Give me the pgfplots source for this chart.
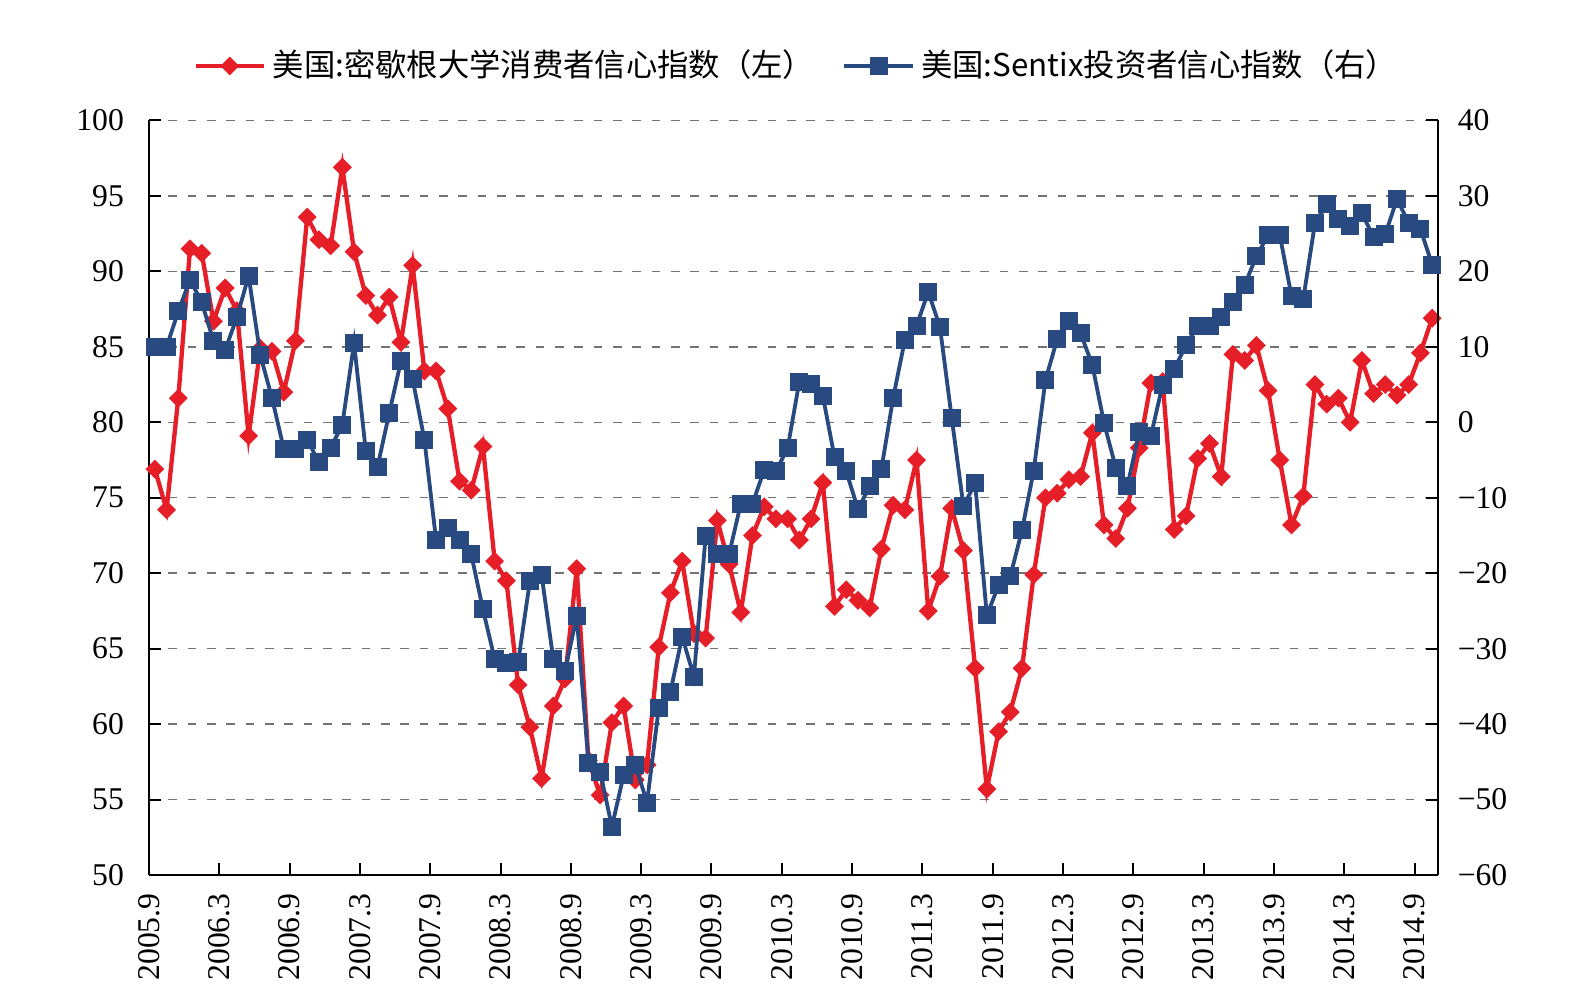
\documentclass[border=0pt]{standalone}
\usepackage{fontspec}
\setmainfont{Liberation Serif}
\newfontfamily\cjk{Noto Sans CJK SC}
\usepackage{pgfplots}
\pgfplotsset{compat=1.18}
\usepackage{pgfplotstable}

\definecolor{myred}{RGB}{230,30,40}
\definecolor{myblue}{RGB}{40,74,128}

\pgfplotstableread{
i v
0 76.9
1 74.2
2 81.6
3 91.5
4 91.2
5 86.7
6 88.9
7 87.4
8 79.1
9 84.9
10 84.7
11 82.0
12 85.4
13 93.6
14 92.1
15 91.7
16 96.9
17 91.3
18 88.4
19 87.1
20 88.3
21 85.3
22 90.4
23 83.4
24 83.4
25 80.9
26 76.1
27 75.5
28 78.4
29 70.8
30 69.5
31 62.6
32 59.8
33 56.4
34 61.2
35 63.0
36 70.3
37 57.6
38 55.3
39 60.1
40 61.2
41 56.3
42 57.3
43 65.1
44 68.7
45 70.8
46 66.0
47 65.7
48 73.5
49 70.6
50 67.4
51 72.5
52 74.4
53 73.6
54 73.6
55 72.2
56 73.6
57 76.0
58 67.8
59 68.9
60 68.2
61 67.7
62 71.6
63 74.5
64 74.2
65 77.5
66 67.5
67 69.8
68 74.3
69 71.5
70 63.7
71 55.7
72 59.5
73 60.8
74 63.7
75 69.9
76 75.0
77 75.3
78 76.2
79 76.4
80 79.3
81 73.2
82 72.3
83 74.3
84 78.3
85 82.6
86 82.7
87 72.9
88 73.8
89 77.6
90 78.6
91 76.4
92 84.5
93 84.1
94 85.1
95 82.1
96 77.5
97 73.2
98 75.1
99 82.5
100 81.2
101 81.6
102 80.0
103 84.1
104 81.9
105 82.5
106 81.8
107 82.5
108 84.6
109 86.9
}\michtable

\pgfplotstableread{
i v
0 10.0
1 10.0
2 14.7
3 18.9
4 15.9
5 10.8
6 9.6
7 13.9
8 19.4
9 8.9
10 3.2
11 -3.5
12 -3.5
13 -2.3
14 -5.3
15 -3.4
16 -0.3
17 10.5
18 -3.8
19 -5.9
20 1.2
21 8.1
22 5.7
23 -2.3
24 -15.6
25 -14.0
26 -15.6
27 -17.5
28 -24.8
29 -31.4
30 -31.9
31 -31.8
32 -21.1
33 -20.2
34 -31.4
35 -33.0
36 -25.7
37 -45.1
38 -46.3
39 -53.6
40 -46.8
41 -45.4
42 -50.4
43 -37.9
44 -35.7
45 -28.4
46 -33.7
47 -15.1
48 -17.5
49 -17.5
50 -10.8
51 -10.8
52 -6.3
53 -6.5
54 -3.4
55 5.4
56 5.1
57 3.5
58 -4.6
59 -6.5
60 -11.5
61 -8.5
62 -6.2
63 3.2
64 10.9
65 12.8
66 17.3
67 12.6
68 0.6
69 -11.1
70 -8.1
71 -25.6
72 -21.6
73 -20.4
74 -14.3
75 -6.4
76 5.6
77 11.0
78 13.4
79 11.8
80 7.6
81 -0.1
82 -6.0
83 -8.4
84 -1.3
85 -1.8
86 5.0
87 7.1
88 10.2
89 12.8
90 12.7
91 14.0
92 15.9
93 18.2
94 22.0
95 24.8
96 24.8
97 16.7
98 16.3
99 26.4
100 28.9
101 26.9
102 26.0
103 27.7
104 24.6
105 24.9
106 29.6
107 26.4
108 25.6
109 20.9
}\sentixtable

\pgfplotsset{
  common/.style={
    at={(0pt,0pt)}, anchor=south west,
    scale only axis, width=386.7pt, height=226.35pt,
    xmin=-0.5, xmax=109.5,
    clip=false,
    tick align=inside,
    major tick length=3.5pt,
    every tick/.style={black, line width=0.6pt},
    axis line style={-, black, line width=0.6pt},
    tick label style={font=\fontsize{9.5}{11}\selectfont},
    /pgf/number format/assume math mode=true,
  },
  redline/.style={color=myred, line width=1.3pt, mark=square*, mark size=1.8pt,
    mark options={solid, rotate=45, fill=myred, draw=myred, line width=0.4pt}},
  blueline/.style={color=myblue, line width=1.15pt, mark=square*, mark size=2.5pt,
    mark options={solid, fill=myblue, draw=myblue, line width=0.4pt}},
}

\begin{document}
\begin{tikzpicture}
\path[use as bounding box] (-44.7pt,-39.6pt) rectangle (431.1pt,262.5pt);
\begin{axis}[common,
  ymin=50, ymax=100,
  ytick={50,55,60,65,70,75,80,85,90,95,100},
  axis x line*=bottom, axis y line*=left,
  xtick={-0.5,5.5,11.5,17.5,23.5,29.5,35.5,41.5,47.5,53.5,59.5,65.5,71.5,77.5,83.5,89.5,95.5,101.5,107.5},
  xticklabels={2005.9,2006.3,2006.9,2007.3,2007.9,2008.3,2008.9,2009.3,2009.9,2010.3,2010.9,2011.3,2011.9,2012.3,2012.9,2013.3,2013.9,2014.3,2014.9},
  x tick label style={rotate=90, anchor=east},
  xticklabel shift=2pt,
  yticklabel shift=4pt,
  ymajorgrids,
  grid style={dash pattern=on 2.6pt off 3.2pt, black!55, line width=0.45pt},
]
\addplot[redline] table[x=i, y=v] {\michtable};
\end{axis}
\begin{axis}[common,
  ymin=-60, ymax=40,
  axis y line*=right, axis x line=none,
  ytick={-60,-50,-40,-30,-20,-10,0,10,20,30,40},
  yticklabels={−60,−50,−40,−30,−20,−10,0,10,20,30,40},
  yticklabel shift=2.4pt,
  legend style={at={(0.504,1.0722)}, anchor=center, draw=none, fill=none,
    legend columns=2, font=\cjk\fontsize{9.4}{11}\selectfont,
    /tikz/every even column/.append style={column sep=6.5pt}},
  legend cell align=left,
  legend image code/.code={\draw[mark repeat=2,mark phase=2,#1] plot coordinates {(0cm,0cm) (0.36cm,0cm) (0.72cm,0cm)};},
]
\addlegendimage{redline}
\addlegendentry{美国:密歇根大学消费者信心指数（左）}
\addplot[blueline] table[x=i, y=v] {\sentixtable};
\addlegendentry{美国:Sentix投资者信心指数（右）}
\end{axis}
\end{tikzpicture}
\end{document}
